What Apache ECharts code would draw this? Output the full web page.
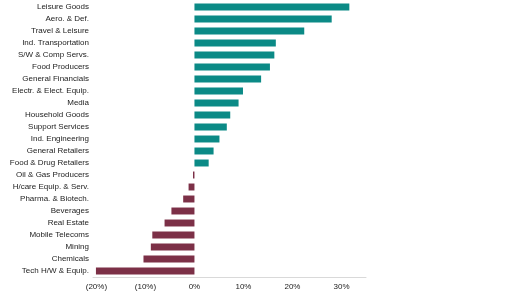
<!DOCTYPE html>
<html><head><meta charset="utf-8">
<script src="https://cdn.jsdelivr.net/npm/echarts@6/dist/echarts.min.js"></script>
<style>html,body{margin:0;padding:0;background:#fff}#c{width:512px;height:296px}</style>
</head><body><div id="c"></div>
<script>
const categories = ["Leisure Goods","Aero. & Def.","Travel & Leisure","Ind. Transportation","S/W & Comp Servs.","Food Producers","General Financials","Electr. & Elect. Equip.","Media","Household Goods","Support Services","Ind. Engineering","General Retailers","Food & Drug Retailers","Oil & Gas Producers","H/care Equip. & Serv.","Pharma. & Biotech.","Beverages","Real Estate","Mobile Telecoms","Mining","Chemicals","Tech H/W & Equip."];
const values = [31.6,28.0,22.4,16.6,16.3,15.4,13.6,9.9,9.0,7.3,6.6,5.1,3.9,2.9,-0.3,-1.2,-2.3,-4.7,-6.1,-8.6,-8.9,-10.4,-20.1];
const tickValues = [-20,-10,0,10,20,30];
const posColor = '#0b8a86', negColor = '#7c3047';
const chart = echarts.init(document.getElementById('c'), null, {renderer:'canvas'});
chart.setOption({
  animation:false,
  grid:{left:93,right:146,top:1,bottom:19,containLabel:false},
  xAxis:{type:'value',min:-20.7,max:35,
    axisLine:{show:true,lineStyle:{color:'#d9d9d9',width:1}},
    axisTick:{show:false},splitLine:{show:false},
    axisLabel:{customValues:tickValues,fontFamily:'Liberation Sans, Arial',fontSize:8,color:'#222',margin:6,
      formatter:v=>v<0?'('+Math.abs(v)+'%)':v+'%'}},
  yAxis:{type:'category',data:categories,inverse:true,
    axisLine:{show:false,onZero:false},axisTick:{show:false},
    axisLabel:{fontFamily:'Liberation Sans, Arial',fontSize:8,color:'#222',margin:4}},
  series:[{type:'bar',data:values.map(v=>({value:v,itemStyle:{color:v>=0?posColor:negColor}})),barWidth:'58%'}]
});
</script></body></html>
